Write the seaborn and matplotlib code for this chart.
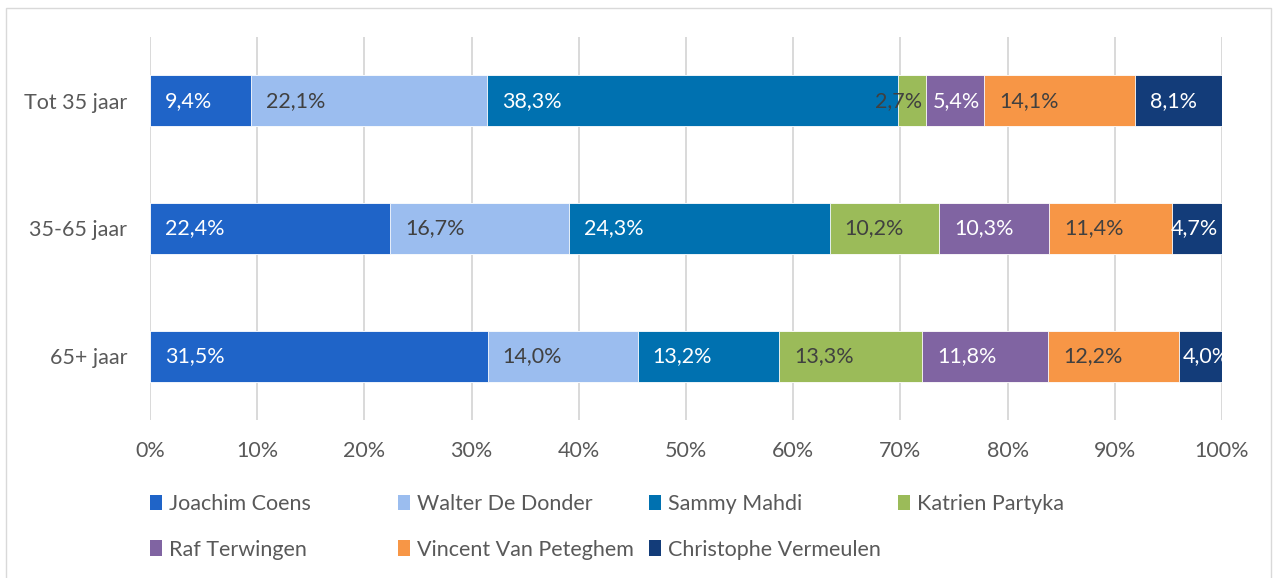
import numpy as np
import pandas as pd
import seaborn as sns
import matplotlib.pyplot as plt
from matplotlib.patches import Patch, Rectangle

# --- data (percentages per age group) ---
groups = ["Tot 35 jaar", "35-65 jaar", "65+ jaar"]
candidates = ["Joachim Coens", "Walter De Donder", "Sammy Mahdi", "Katrien Partyka",
              "Raf Terwingen", "Vincent Van Peteghem", "Christophe Vermeulen"]

coens = [9.4, 22.4, 31.5]
de_donder = [22.1, 16.7, 14.0]
mahdi = [38.3, 24.3, 13.2]
partyka = [2.7, 10.2, 13.3]
terwingen = [5.4, 10.3, 11.8]
van_peteghem = [14.1, 11.4, 12.2]
vermeulen = [8.1, 4.7, 4.0]

colors = ["#1F64C8", "#9BBDEF", "#0071B0", "#9BBB59", "#8064A2", "#F79646", "#133C79"]
label_colors = ["white", "#404040", "white", "#404040", "white", "#404040", "white"]

df = pd.DataFrame(dict(zip(candidates, [coens, de_donder, mahdi, partyka,
                                        terwingen, van_peteghem, vermeulen])),
                  index=groups)
# 100% stacked: normalise each row
shares = df.div(df.sum(axis=1), axis=0) * 100
cum = shares.cumsum(axis=1)

sns.set_style("white")
plt.rcParams['font.family'] = ['Lato', 'DejaVu Sans']
TEXT = "#595959"
FS = 15.5

W, H = 1277, 578
fig = plt.figure(figsize=(W / 100, H / 100), dpi=100)
ax = fig.add_axes([150 / W, 1 - 420 / H, (1222 - 150) / W, (420 - 37) / H])

# draw from the full cumulative down so every segment shows
for name, col in reversed(list(zip(candidates, colors))):
    sns.barplot(x=cum[name].values, y=groups, orient="h", color=col, saturation=1,
                width=0.4, errorbar=None, edgecolor="white", linewidth=0.6, ax=ax)

# data labels (Excel-ish: at the base, narrow segments pushed to the end)
last = len(candidates) - 1
for i, g in enumerate(groups):
    for j, name in enumerate(candidates):
        w = shares.loc[g, name]
        start = cum.loc[g, name] - w
        txt = f"{df.loc[g, name]:.1f}%".replace(".", ",")
        if w >= 7:
            x, ha = start + 1.4, "left"
        elif j == last and w < 4.3:
            x, ha = start + 0.3, "left"   # runs off the plot edge, gets clipped
        else:
            x, ha = start + w - 0.4, "right"
        ax.text(x, i, txt, ha=ha, va="center", fontsize=FS,
                color=label_colors[j], clip_on=True)

ax.set_xlim(0, 100)
ax.set_xticks(np.arange(0, 101, 10))
ax.set_xticklabels([f"{t}%" for t in range(0, 101, 10)], fontsize=FS, color=TEXT)
ax.set_yticks(range(len(groups)))
ax.set_yticklabels(groups, fontsize=FS, color=TEXT)
ax.set_xlabel("")
ax.set_ylabel("")
ax.tick_params(axis="both", length=0)
ax.tick_params(axis="x", pad=15)
ax.tick_params(axis="y", pad=16.5)
ax.xaxis.grid(True, color="#D9D9D9", linewidth=1.4)
ax.yaxis.grid(False)
ax.set_axisbelow(True)
sns.despine(ax=ax, left=True, bottom=True)

# legend: Excel style, equal-width columns
handles = [Patch(facecolor=c, edgecolor="none") for c in colors]
columns = [[0, 4], [1, 5], [2, 6], [3]]
col_x = [150, 398, 649, 898]
for xs, idx in zip(col_x, columns):
    fig.legend([handles[k] for k in idx], [candidates[k] for k in idx],
               loc="upper left", bbox_to_anchor=(xs / W, 1 - 494 / H),
               frameon=False, fontsize=FS, labelcolor=TEXT,
               handlelength=0.55, handleheight=0.75, handletextpad=0.35,
               labelspacing=1.2, borderpad=0, borderaxespad=0)

# chart border
fig.patches.append(Rectangle((6 / W, -0.01), (1271 - 6) / W, 1 - 8 / H + 0.01,
                             transform=fig.transFigure, fill=False,
                             edgecolor="#D9D9D9", linewidth=1))

fig.savefig("out.png", dpi=100)
